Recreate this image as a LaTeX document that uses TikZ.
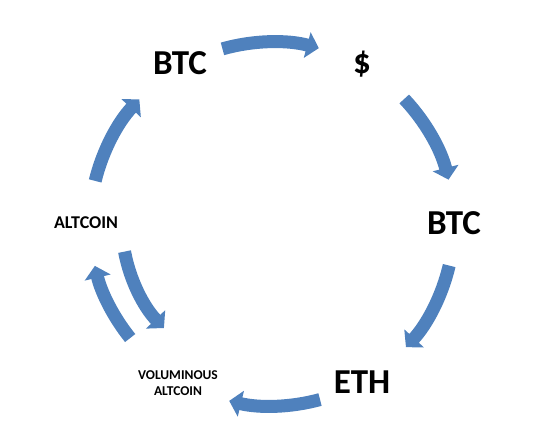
\documentclass[tikz,border=0pt]{standalone}
\usepackage{fontspec}
\setmainfont{Carlito}
\usetikzlibrary{calc, positioning, arrows.meta}
\definecolor{myblue}{RGB}{79,129,189}
\tikzset{
  bigcoin/.style = {font=\bfseries\fontsize{35}{40}\selectfont, inner sep=0pt},
  smallcoin/.style = {font=\bfseries\fontsize{18}{20}\selectfont, inner sep=0pt},
  tinycoin/.style = {font=\bfseries\fontsize{13.5}{16}\selectfont, inner sep=0pt,
                     align=center},
  flow/.style = {draw=myblue, line width=13pt,
                 -{Triangle[width=26pt, length=12pt]}}
}

\begin{document}
\begin{tikzpicture}[x=1pt, y=1pt]
\useasboundingbox (0,0) rectangle (545,-445);
\coordinate (hub) at (272,-224);

%coins on the ring
\node[bigcoin] (btcTop) at (180,-63) {BTC};
\node[bigcoin] (usd) at (362,-64) {\$};
\node[bigcoin] (btcRight) at (454,-223) {BTC};
\node[bigcoin] (eth) at (362,-382) {ETH};
\node[tinycoin] (volAlt) at (178,-383) {VOLUMINOUS\\ALTCOIN};
\node[smallcoin] (alt) at (86,-223) {ALTCOIN};

%tails of the arrows
\coordinate (btcTop-out) at ($(hub)+(105.8:182pt)$);
\coordinate (usd-out) at ($(hub)+(43.4:182pt)$);
\coordinate (btcRight-out) at ($(hub)+(-13.2:182pt)$);
\coordinate (eth-out) at ($(hub)+(-74.7:182pt)$);
\coordinate (volAlt-out) at ($(hub)+(218.8:182pt)$);
\coordinate (alt-in) at ($(hub)+(190.6:150pt)$);
\coordinate (alt-out) at ($(hub)+(166.3:182pt)$);

% BTC -> $ -> BTC -> ETH
\draw[flow] (btcTop-out) arc[start angle=105.8, end angle=75.1, radius=182pt];
\draw[flow] (usd-out) arc[start angle=43.4, end angle=14.1, radius=182pt];
\draw[flow] (btcRight-out) arc[start angle=-13.2, end angle=-42.6, radius=182pt];
% ETH -> voluminous altcoin <-> altcoin -> BTC
\draw[flow] (eth-out) arc[start angle=-74.7, end angle=-103.6, radius=182pt];
\draw[flow] (volAlt-out) arc[start angle=218.8, end angle=193.3, radius=182pt];
\draw[flow] (alt-in) arc[start angle=190.6, end angle=223.9, radius=150pt];
\draw[flow] (alt-out) arc[start angle=166.3, end angle=136.8, radius=182pt];
\end{tikzpicture}
\end{document}
